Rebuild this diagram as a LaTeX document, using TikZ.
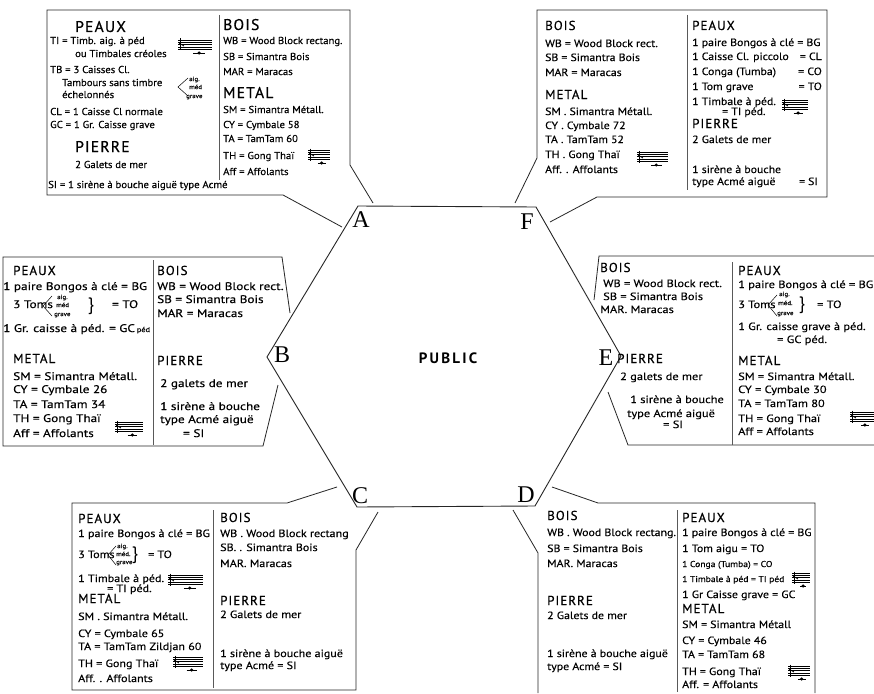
\documentclass[tikz,border=0pt]{standalone}
\usepackage{fontspec}
\setmainfont{PT Sans}
\newfontfamily\letfont{Liberation Serif}
\newfontfamily\hdfont[LetterSpace=8,FakeBold=0.6]{PT Sans}
\newfontfamily\pubfont[LetterSpace=15]{PT Sans}
\newfontfamily\fA[FakeStretch=1.07,FakeBold=0.35]{PT Sans}
\newfontfamily\fF[FakeStretch=1.12,FakeBold=0.35]{PT Sans}
\newfontfamily\fB[FakeStretch=1.2,FakeBold=0.35]{PT Sans}
\newfontfamily\fE[FakeStretch=1.18,FakeBold=0.35]{PT Sans}
\newfontfamily\fC[FakeStretch=1.15,FakeBold=0.35]{PT Sans}
\newfontfamily\fD[FakeStretch=1.13,FakeBold=0.35]{PT Sans}
\newcounter{tn}
\newcommand\T[4][txt]{\stepcounter{tn}\node[#1] (n\arabic{tn}) at (#2,#3) {#4};}
\newcommand\staffsym[3]{%
  \foreach \i in {0,...,4}{\draw[staffline] (#1,#2+2.3*\i) -- ++(#3,0);}
  \draw[line width=1.3pt] (#1+2.5,#2-1.5) -- (#1+2.5,#2+10.5);
  \draw[line width=0.8pt] (#1+1,#2+3) -- (#1+6,#2+6);
  \draw[staffline] (#1+0.45*#3,#2+13) -- ++(0.35*#3,0);
  \fill (#1+0.62*#3,#2+13) circle (1.7);
}
\tikzset{
  base/.style={anchor=base west, inner sep=0pt},
  txtA/.style={base, font=\fA\fontsize{10}{11}\selectfont},
  txtF/.style={base, font=\fF\fontsize{10.5}{11}\selectfont},
  txtFr/.style={txtF, anchor=base east},
  txtB/.style={base, font=\fB\fontsize{11}{12}\selectfont},
  txtE/.style={base, font=\fE\fontsize{10.5}{11}\selectfont},
  txtC/.style={base, font=\fC\fontsize{10.5}{11}\selectfont},
  txtD/.style={base, font=\fD\fontsize{10.5}{11}\selectfont},
  txtDs/.style={base, font=\fD\fontsize{8.5}{9}\selectfont},
  tin/.style={base, font=\fC\fontsize{6}{6}\selectfont},
  hdA/.style={base, font=\hdfont\fontsize{15.5}{16}\selectfont},
  hd/.style={base, font=\hdfont\fontsize{13}{14}\selectfont},
  brace/.style={inner sep=0pt, font=\fontsize{18}{18}\selectfont},
  boxline/.style={draw=black!85, line width=0.8pt},
  divline/.style={draw=black!65, line width=0.7pt},
  staffline/.style={draw=black, line width=0.5pt},
  hexline/.style={draw=black!85, line width=0.9pt},
  vlabel/.style={inner sep=0pt, font=\letfont\fontsize{24}{24}\selectfont},
}
\begin{document}
\begin{tikzpicture}[x=1pt,y=-1pt]
\useasboundingbox (0,0) rectangle (874,693);
\fill[white] (0,0) rectangle (874,693);

% hexagon
\coordinate (hA) at (358,206);
\coordinate (hF) at (536,207);
\coordinate (hE) at (621,356);
\coordinate (hD) at (535,506);
\coordinate (hC) at (357,507);
\coordinate (hB) at (267,357);
\draw[hexline] (hA) -- (hF) -- (hE) -- (hD) -- (hC) -- (hB) -- cycle;
\node[vlabel] (lA) at (361,220) {A};
\node[vlabel] (lF) at (527,222) {F};
\node[vlabel] (lB) at (282,355) {B};
\node[vlabel] (lE) at (606,358) {E};
\node[vlabel] (lC) at (360,496) {C};
\node[vlabel] (lD) at (526,495) {D};
\node[inner sep=0pt, font=\pubfont\bfseries\fontsize{15}{15}\selectfont] (pub) at (448,358) {PUBLIC};

% ---------- box outlines ----------
\coordinate (a1) at (342,227); \coordinate (a2) at (373,203);
\draw[boxline] (a1) -- (283,195) -- (47,195) -- (47,10) -- (350,10) -- (350,165) -- (a2);
\coordinate (f1) at (515,203); \coordinate (f2) at (550,222);
\draw[boxline] (f1) -- (537,158) -- (537,10) -- (827,10) -- (827,197) -- (597,197) -- (f2);
\coordinate (b1) at (290,313); \coordinate (b2) at (278,385);
\draw[boxline] (b1) -- (282,257) -- (3,257) -- (3,446) -- (263,446) -- (b2);
\coordinate (e1) at (594,300); \coordinate (e2) at (608,392);
\draw[boxline] (e1) -- (599,256) -- (874,256);
\draw[boxline] (e2) -- (628,445) -- (874,445);
\coordinate (c1) at (337,487); \coordinate (c2) at (378,512);
\draw[boxline] (c1) -- (287,503) -- (72,503) -- (72,690) -- (356,690) -- (356,550) -- (c2);
\coordinate (d1) at (552,487); \coordinate (d2) at (513,510);
\draw[boxline] (d1) -- (598,503) -- (815,503) -- (815,693);
\draw[boxline] (d2) -- (538,553) -- (538,693);

% dividers
\draw[divline] (219,15) -- (219,180);
\draw[divline] (687,15) -- (687,190);
\draw[divline] (153,260) -- (153,445);
\draw[divline] (732,262) -- (732,445);
\draw[divline] (213,510) -- (213,688);
\draw[divline] (677,510) -- (677,692);

% ---------- Box A ----------
\T[hdA]{75}{32}{PEAUX}
\T[txtA]{50}{44}{TI = Timb. aig. à péd}
\T[txtA]{75}{57}{ou Timbales créoles}
\staffsym{178}{40}{34}
\T[txtA]{50}{73}{TB = 3 Caisses Cl.}
\T[txtA]{62}{86}{Tambours sans timbre}
\T[txtA]{62}{98}{échelonnés}
\draw[staffline] (188,78) -- (178,87) -- (188,96);
\T[tin]{189}{81}{aig.}
\T[tin]{189}{89}{méd}
\T[tin]{186}{98}{grave}
\T[txtA]{50}{115}{CL = 1 Caisse Cl normale}
\T[txtA]{50}{128}{GC = 1 Gr. Caisse grave}
\T[hdA]{75}{152}{PIERRE}
\T[txtA]{75}{168}{2 Galets de mer}
\T[txtA]{48}{188}{SI = 1 sirène à bouche aiguë type Acmé}
\T[hdA]{223}{30}{BOIS}
\T[txtA]{223}{44}{WB = Wood Block rectang.}
\T[txtA]{223}{60}{SB = Simantra Bois}
\T[txtA]{223}{75}{MAR = Maracas}
\T[hdA]{223}{98}{METAL}
\T[txtA]{223}{113}{SM = Simantra Métall.}
\T[txtA]{223}{128}{CY = Cymbale 58}
\T[txtA]{223}{142}{TA = TamTam 60}
\T[txtA]{223}{159}{TH = Gong Thaï}
\staffsym{308}{150}{22}
\T[txtA]{223}{175}{Aff = Affolants}

% ---------- Box F ----------
\T[hd]{545}{30}{BOIS}
\T[txtF]{545}{47}{WB = Wood Block rect.}
\T[txtF]{545}{61}{SB = Simantra Bois}
\T[txtF]{545}{76}{MAR = Maracas}
\T[hd]{545}{99}{METAL}
\T[txtF]{545}{115}{SM . Simantra Métall.}
\T[txtF]{545}{129}{CY . Cymbale 72}
\T[txtF]{545}{143}{TA . TamTam 52}
\T[txtF]{545}{158}{TH . Gong Thaï}
\staffsym{637}{152}{31}
\T[txtF]{545}{173}{Aff. . Affolants}
\T[hd]{692}{30}{PEAUX}
\T[txtF]{692}{46}{1 paire Bongos à clé = BG}
\T[txtF]{692}{60}{1 Caisse Cl. piccolo}
\T[txtFr]{822}{60}{= CL}
\T[txtF]{692}{75}{1 Conga (Tumba)}
\T[txtFr]{822}{75}{= CO}
\T[txtF]{692}{90}{1 Tom grave}
\T[txtFr]{822}{90}{= TO}
\T[txtF]{692}{105}{1 Timbale à péd.}
\T[txtF]{722}{115}{= TI péd.}
\staffsym{782}{100}{26}
\T[hd]{692}{128}{PIERRE}
\T[txtF]{692}{143}{2 Galets de mer}
\T[txtF]{692}{173}{1 sirène à bouche}
\T[txtF]{692}{185}{type Acmé aiguë}
\T[txtFr]{818}{185}{= SI}

% ---------- Box B ----------
\T[hd]{13}{275}{PEAUX}
\T[txtB]{3}{290}{1 paire Bongos à clé = BG}
\T[txtB]{13}{308}{3 Toms}
\draw[staffline] (52,296) -- (43,306) -- (52,316);
\T[tin]{57}{299}{aig.}
\T[tin]{56}{307}{méd}
\T[tin]{54}{316}{grave}
\node[brace] (br1) at (91,306) {\}};
\T[txtB]{112}{308}{= TO}
\T[txtB]{3}{332}{1 Gr. caisse à péd. = GC\,{\fontsize{7}{7}\selectfont péd}}
\T[hd]{13}{363}{METAL}
\T[txtB]{13}{380}{SM = Simantra Métall.}
\T[txtB]{13}{393}{CY = Cymbale 26}
\T[txtB]{13}{408}{TA = TamTam 34}
\T[txtB]{13}{422}{TH = Gong Thaï}
\staffsym{115}{422}{28}
\T[txtB]{13}{437}{Aff = Affolants}
\T[hd]{157}{275}{BOIS}
\T[txtB]{157}{290}{WB = Wood Block rect.}
\T[txtB]{157}{303}{SB = Simantra Bois}
\T[txtB]{157}{317}{MAR = Maracas}
\T[hd]{157}{365}{PIERRE}
\T[txtB]{160}{387}{2 galets de mer}
\T[txtB]{160}{410}{1 sirène à bouche}
\T[txtB]{160}{423}{type Acmé aiguë}
\T[txtB]{183}{437}{= SI}

% ---------- Box E ----------
\T[hd]{600}{272}{BOIS}
\T[txtE]{603}{287}{WB = Wood Block rect.}
\T[txtE]{603}{300}{SB = Simantra Bois}
\T[txtE]{600}{313}{MAR. Maracas}
\T[hd]{617}{363}{PIERRE}
\T[txtE]{620}{380}{2 galets de mer}
\T[txtE]{630}{403}{1 sirène à bouche}
\T[txtE]{627}{417}{type Acmé aiguë}
\T[txtE]{663}{428}{= SI}
\T[hd]{738}{275}{PEAUX}
\T[txtE]{738}{288}{1 paire Bongos à clé = BG}
\T[txtE]{738}{308}{3 Toms}
\draw[staffline] (777,295) -- (768,305) -- (777,316);
\T[tin]{779}{296}{aig.}
\T[tin]{778}{305}{méd.}
\T[tin]{777}{315}{grave}
\node[brace] (br2) at (802,305) {\}};
\T[txtE]{817}{308}{= TO}
\T[txtE]{738}{330}{1 Gr. caisse grave à péd.}
\T[txtE]{777}{343}{= GC péd.}
\T[hd]{738}{365}{METAL}
\T[txtE]{738}{380}{SM = Simantra Métall.}
\T[txtE]{738}{393}{CY = Cymbale 30}
\T[txtE]{738}{407}{TA = TamTam 80}
\T[txtE]{738}{422}{TH = Gong Thaï}
\staffsym{850}{412}{24}
\T[txtE]{738}{435}{Aff = Affolants}

% ---------- Box C ----------
\T[hd]{78}{523}{PEAUX}
\T[txtC]{78}{537}{1 paire Bongos à clé = BG}
\T[txtC]{78}{558}{3 Toms}
\draw[staffline] (116,546) -- (108,555) -- (116,565);
\T[tin]{117}{548}{aig.}
\T[tin]{116}{556}{méd.}
\T[tin]{116}{564}{grave}
\node[brace] (br3) at (135,555) {\}};
\T[txtC]{148}{558}{= TO}
\T[txtC]{78}{582}{1 Timbale à péd.}
\T[txtC]{107}{592}{= TI péd.}
\staffsym{168}{575}{35}
\T[hd]{78}{603}{METAL}
\T[txtC]{78}{620}{SM . Simantra Métall.}
\T[txtC]{78}{637}{CY = Cymbale 65}
\T[txtC]{78}{650}{TA = TamTam Zildjan 60}
\T[txtC]{78}{667}{TH = Gong Thaï}
\staffsym{173}{657}{30}
\T[txtC]{78}{682}{Aff. . Affolants}
\T[hd]{220}{522}{BOIS}
\T[txtC]{220}{537}{WB . Wood Block rectang}
\T[txtC]{220}{551}{SB. . Simantra Bois}
\T[txtC]{220}{567}{MAR. Maracas}
\T[hd]{220}{605}{PIERRE}
\T[txtC]{220}{618}{2 Galets de mer}
\T[txtC]{220}{657}{1 sirène à bouche aiguë}
\T[txtC]{220}{669}{type Acmé = SI}

% ---------- Box D ----------
\T[hd]{547}{520}{BOIS}
\T[txtD]{547}{536}{WB . Wood Block rectang.}
\T[txtD]{547}{552}{SB = Simantra Bois}
\T[txtD]{547}{567}{MAR. Maracas}
\T[hd]{547}{605}{PIERRE}
\T[txtD]{547}{619}{2 Galets de mer}
\T[txtD]{547}{657}{1 sirène à bouche aiguë}
\T[txtD]{547}{670}{type Acmé = SI}
\T[hd]{682}{522}{PEAUX}
\T[txtD]{682}{536}{1 paire Bongos à clé = BG}
\T[txtD]{682}{552}{1 Tom aigu = TO}
\T[txtDs]{682}{567}{1 Conga (Tumba) = CO}
\T[txtDs]{682}{582}{1 Timbale à péd = TI péd}
\staffsym{792}{573}{18}
\T[txtD]{682}{598}{1 Gr Caisse grave = GC}
\T[hd]{682}{613}{METAL}
\T[txtD]{682}{628}{SM = Simantra Métall}
\T[txtD]{682}{644}{CY = Cymbale 46}
\T[txtD]{682}{658}{TA = TamTam 68}
\T[txtD]{682}{675}{TH = Gong Thaï}
\staffsym{788}{666}{22}
\T[txtD]{682}{688}{Aff. = Affolants}
\end{tikzpicture}
\end{document}
